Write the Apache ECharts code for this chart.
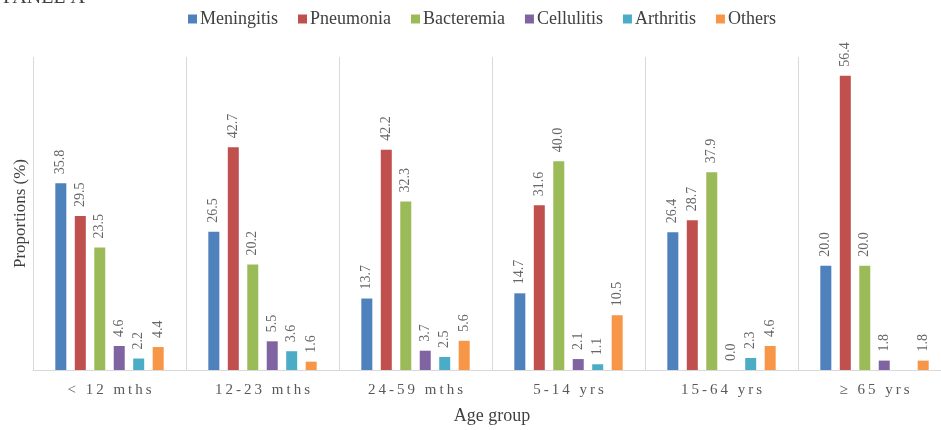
<!DOCTYPE html>
<html>
<head>
<meta charset="utf-8">
<script src="https://cdn.jsdelivr.net/npm/echarts@6/dist/echarts.min.js"></script>
<style>html,body{margin:0;padding:0;background:#fff;}#c{width:941px;height:430px;}</style>
</head>
<body>
<div id="c"></div>
<script>
const categories = ['< 12 mths', '12-23 mths', '24-59 mths', '5-14 yrs', '15-64 yrs', '\u2265 65 yrs'];
const seriesNames = ['Meningitis', 'Pneumonia', 'Bacteremia', 'Cellulitis', 'Arthritis', 'Others'];
const meningitis = [35.8, 26.5, 13.7, 14.7, 26.4, 20.0];
const pneumonia  = [29.5, 42.7, 42.2, 31.6, 28.7, 56.4];
const bacteremia = [23.5, 20.2, 32.3, 40.0, 37.9, 20.0];
const cellulitis = [4.6, 5.5, 3.7, 2.1, 0.0, 1.8];
const arthritis  = [2.2, 3.6, 2.5, 1.1, 2.3, null];
const others     = [4.4, 1.6, 5.6, 10.5, 4.6, 1.8];
const colors = ['#4F81BD', '#C0504D', '#9BBB59', '#8064A2', '#4BACC6', '#F79646'];

const allData = [meningitis, pneumonia, bacteremia, cellulitis, arthritis, others];
const serif = '"Liberation Serif", "Times New Roman", serif';

const chart = echarts.init(document.getElementById('c'), null, {renderer: 'canvas'});
chart.setOption({
  animation: false,
  color: colors,
  title: {
    text: 'PANEL A',
    left: -2,
    top: -17,
    textStyle: {fontFamily: serif, fontSize: 20, fontWeight: 'normal', color: '#404040'}
  },
  legend: {
    top: 5,
    left: 183,
    itemWidth: 9,
    itemHeight: 9,
    itemGap: 20,
    icon: 'rect',
    textStyle: {fontFamily: serif, fontSize: 18, color: '#404040', padding: [0, 0, 0, -2]},
    data: seriesNames
  },
  grid: {left: 33, right: -10, top: 57, bottom: 60, containLabel: false, outerBoundsMode: 'none'},
  xAxis: {
    type: 'category',
    data: categories,
    name: 'Age group',
    nameLocation: 'middle',
    nameGap: 37,
    nameTextStyle: {fontFamily: serif, fontSize: 18, color: '#404040'},
    axisLine: {show: true, lineStyle: {color: '#d9d9d9', width: 1}},
    axisTick: {show: false},
    splitLine: {show: true, interval: 0, lineStyle: {color: '#d9d9d9', width: 1}},
    axisLabel: {
      interval: 0,
      margin: 13,
      fontFamily: serif,
      fontSize: 15,
      color: '#595959',
      formatter: function (v) { return v.split('').join('\u2009'); }
    }
  },
  yAxis: {
    type: 'value',
    min: 0,
    max: 60,
    name: 'Proportions (%)',
    nameLocation: 'middle',
    nameGap: 4,
    nameTextStyle: {fontFamily: serif, fontSize: 17, color: '#404040'},
    axisLine: {show: false},
    axisTick: {show: false},
    axisLabel: {show: false},
    splitLine: {show: false}
  },
  series: seriesNames.map(function (n, i) {
    return {
      name: n,
      type: 'bar',
      data: allData[i],
      barWidth: 11,
      barGap: '77%',
      barCategoryGap: '29%',
      itemStyle: {color: colors[i]},
      label: {
        show: true,
        position: 'top',
        rotate: 90,
        align: 'left',
        verticalAlign: 'middle',
        distance: 9,
        fontFamily: serif,
        fontSize: 14,
        color: '#666666',
        formatter: function (p) { return p.value == null ? '' : Number(p.value).toFixed(1); }
      }
    };
  })
});
</script>
</body>
</html>
